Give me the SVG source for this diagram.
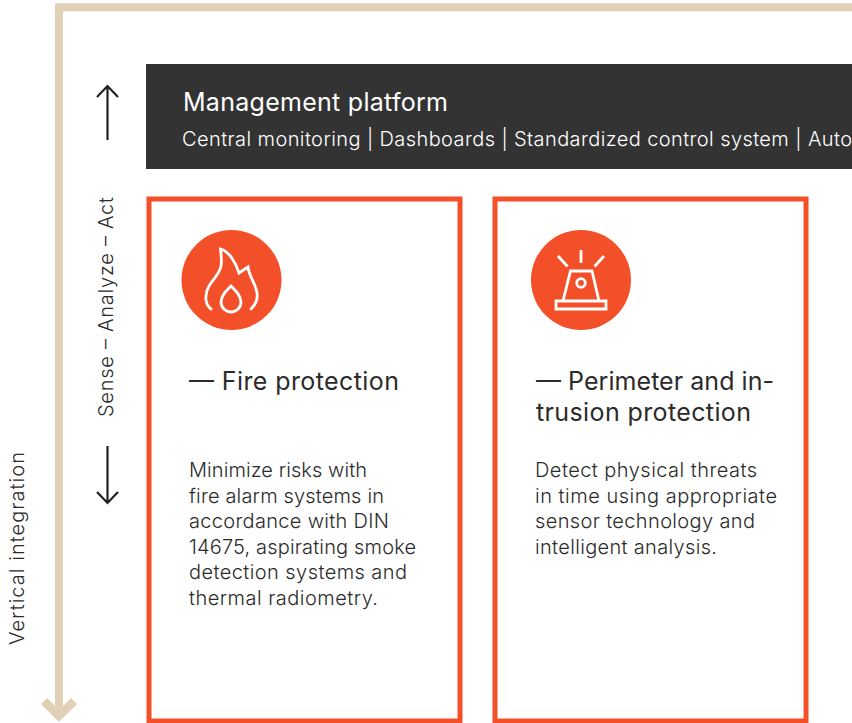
<svg xmlns="http://www.w3.org/2000/svg" width="852" height="723" viewBox="0 0 852 723">
<style>
text{font-family:"Inter","Noto Sans",sans-serif;fill:#2b2b2b}
.b{font-size:20px;font-weight:300}
.h{font-size:25px;font-weight:400;fill:#2b2b2b}
.w{fill:#fff}
.o{fill:#f3502a}
.card{fill:#fff;stroke:#f3502a;stroke-width:5}
.ic{fill:none;stroke:#fff;stroke-width:2.800;stroke-linecap:round;stroke-linejoin:miter}
.ar{fill:none;stroke:#222;stroke-width:2.200}
</style>
<rect width="852" height="723" fill="#fff"/>
<g id="connectors">
<path d="M852 7.300H59V716" fill="none" stroke="#e0d1b6" stroke-width="8"/>
<path d="M44 701L59 716L74 701" fill="none" stroke="#e0d1b6" stroke-width="8.500"/>
<path class="ar" d="M107.500 140V86M97 97L107.500 86L118 97"/>
<path class="ar" d="M107.500 446V503M97 492L107.500 503L118 492"/>
</g>
<g id="platform">
<rect x="146" y="64" width="706" height="105" fill="#333"/>
<text x="183" y="111" font-size="25" textLength="265" class="w" style="font-weight:400">Management platform</text>
<text x="182" y="146" class="b w" textLength="670">Central monitoring | Dashboards | Standardized control system | Auto</text>
</g>
<g id="label-sense"><text class="b" textLength="220" transform="translate(113 417) rotate(-90)">Sense – Analyze – Act</text></g>
<g id="label-vertical"><text class="b" textLength="193" transform="translate(24 645) rotate(-90)">Vertical integration</text></g>
<g id="fire">
<rect class="card" x="149" y="199" width="311" height="522"/>
<circle class="o" cx="231.500" cy="280" r="50"/>
<path class="ic" d="M211 309C204 304 205 293 209 286C213 279 219 275 221 266C222 260 221 254 220.500 249C229 251 236 263 239 273L248 267C249 276 254 281 256 289C259 297 256 304 251 309"/>
<path class="ic" d="M231 286C236 291 241 296 241 302C241 308 236 312 231 312C226 312 221 308 221 302C221 296 226 291 231 286Z"/>
<text x="189" y="390" class="h" textLength="210">— Fire protection</text>
<text x="189" y="477" class="b" textLength="178">Minimize risks with</text>
<text x="189" y="503" class="b" textLength="195">fire alarm systems in</text>
<text x="189" y="528" class="b" textLength="200">accordance with DIN</text>
<text x="189" y="554" class="b" textLength="227">14675, aspirating smoke</text>
<text x="189" y="579" class="b" textLength="218">detection systems and</text>
<text x="189" y="605" class="b" textLength="189">thermal radiometry.</text>
</g>
<g id="perimeter">
<rect class="card" x="495" y="199" width="311" height="522"/>
<circle class="o" cx="581" cy="280" r="50"/>
<path class="ic" style="stroke-linecap:butt" d="M570.500 271H592L599 301H563ZM556 301H606V309H556ZM581 250V263M558 256L567.500 266.500M604 256L594.500 266.500"/>
<circle class="ic" cx="581" cy="283" r="4.300"/>
<text x="536" y="390" class="h" textLength="238">— Perimeter and in-</text>
<text x="536" y="421" class="h" textLength="215">trusion protection</text>
<text x="535" y="477" class="b" textLength="222">Detect physical threats</text>
<text x="535" y="503" class="b" textLength="242">in time using appropriate</text>
<text x="535" y="528" class="b" textLength="220">sensor technology and</text>
<text x="535" y="554" class="b" textLength="182">intelligent analysis.</text>
</g>
</svg>
